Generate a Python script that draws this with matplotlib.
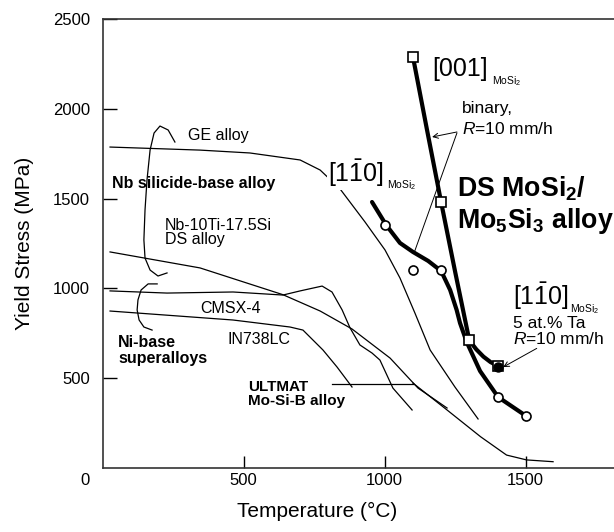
import matplotlib
matplotlib.use('Agg')
import matplotlib.pyplot as plt

# thin curves of the reference alloys (temperature in C, yield stress in MPa)
ge_temp = [26, 345, 522, 700, 771, 842, 930, 1001, 1054, 1107, 1161, 1249, 1331]
ge_stress = [1787, 1770, 1754, 1715, 1659, 1553, 1370, 1214, 1058, 863, 657, 451, 273]

nb_temp = [26, 345, 639, 771, 884, 1019, 1118, 1221]
nb_stress = [1203, 1114, 965, 874, 774, 612, 445, 334]

cmsx_temp = [26, 228, 462, 639, 700, 778, 813, 849, 877, 912, 955, 983, 1029, 1097]
cmsx_stress = [986, 974, 980, 963, 986, 1013, 980, 880, 780, 685, 640, 601, 445, 323]

in738_temp = [26, 462, 664, 710, 781, 831, 884]
in738_stress = [874, 824, 785, 768, 657, 562, 451]

ultmat_temp = [1100, 1221, 1340, 1432, 1503, 1597]
ultmat_stress = [473, 323, 174, 72, 45, 35]
ultmat_leader_temp = [813, 1100]
ultmat_leader_stress = [470, 470]

# DS MoSi2/Mo5Si3, [001] binary (squares)
sq_temp = [1100, 1200, 1300, 1400]
sq_stress = [2290, 1480, 710, 570]
line001_temp = [1100, 1150, 1200, 1250, 1300, 1325, 1350, 1375, 1400]
line001_stress = [2290, 1882, 1480, 1090, 710, 660, 620, 590, 570]

# DS MoSi2/Mo5Si3, [1-10] binary (open circles)
circ_temp = [1000, 1100, 1200, 1400, 1500]
circ_stress = [1355, 1100, 1100, 395, 290]
line110_temp = [955, 1005, 1054, 1100, 1154, 1200, 1232, 1255, 1267, 1291, 1338, 1402, 1501]
line110_stress = [1481, 1353, 1253, 1203, 1153, 1097, 991, 880, 807, 700, 540, 395, 290]

# [1-10] with 5 at.% Ta (filled circle)
ta_temp = [1400]
ta_stress = [560]

# curly brackets grouping the alloy families
nb_brace_temp = [256, 232, 203, 182, 168, 157, 150, 146, 150, 168, 196, 228]
nb_brace_stress = [1815, 1882, 1904, 1865, 1771, 1604, 1437, 1270, 1169, 1102, 1069, 1086]
ni_brace_temp = [193, 161, 136, 125, 122, 129, 146, 175]
ni_brace_stress = [1025, 1025, 991, 936, 880, 824, 785, 768]


def label_with_sub(ax, x, y, main, sx, sy):
    ax.text(x, y, main, fontsize=18, va='baseline', ha='left', zorder=6,
            bbox=dict(facecolor='white', edgecolor='none', pad=0.5))
    ax.text(sx, sy, r'MoSi$_2$', fontsize=7.5, va='baseline', ha='left', zorder=6)


def main():
    plt.rcParams['font.family'] = ['Liberation Sans', 'DejaVu Sans']
    plt.rcParams['mathtext.fontset'] = 'custom'
    plt.rcParams['mathtext.rm'] = 'Liberation Sans'
    plt.rcParams['mathtext.it'] = 'Liberation Sans:italic'
    plt.rcParams['mathtext.bf'] = 'Liberation Sans:bold'

    fig = plt.figure(figsize=(6.14, 5.32), dpi=100)
    ax = fig.add_axes([0.1673, 0.1203, 0.8327, 0.8440])

    thin = dict(color='black', lw=0.9, zorder=2)
    ax.plot(ge_temp, ge_stress, **thin)
    ax.plot(nb_temp, nb_stress, **thin)
    ax.plot(cmsx_temp, cmsx_stress, **thin)
    ax.plot(in738_temp, in738_stress, **thin)
    ax.plot(ultmat_temp, ultmat_stress, **thin)
    ax.plot(ultmat_leader_temp, ultmat_leader_stress, **thin)
    ax.plot(nb_brace_temp, nb_brace_stress, **thin)
    ax.plot(ni_brace_temp, ni_brace_stress, **thin)

    ax.plot(line001_temp, line001_stress, color='black', lw=3, zorder=3,
            solid_capstyle='butt')
    ax.plot(line110_temp, line110_stress, color='black', lw=3, zorder=3,
            solid_capstyle='round')
    ax.plot(sq_temp, sq_stress, 's', ms=7, mfc='white', mec='black', mew=1.2, zorder=4)
    ax.plot(circ_temp, circ_stress, 'o', ms=6.5, mfc='white', mec='black', mew=1.2, zorder=4)
    ax.plot(ta_temp, ta_stress, 'o', ms=6.5, mfc='black', mec='black', zorder=5)

    # leaders
    ax.annotate('', xy=(1168, 1843), xytext=(1256, 1871),
                arrowprops=dict(arrowstyle='->', lw=0.7, color='black',
                                shrinkA=0, shrinkB=0, mutation_scale=9))
    ax.plot([1256, 1104], [1865, 1197], color='black', lw=0.7, zorder=2)
    ax.annotate('', xy=(1420, 562), xytext=(1539, 666),
                arrowprops=dict(arrowstyle='->', lw=0.7, color='black',
                                shrinkA=0, shrinkB=0, mutation_scale=9))

    # texts
    fs = 11.5
    ax.text(303, 1826, 'GE alloy', fontsize=fs)
    ax.text(33, 1559, 'Nb silicide-base alloy', fontsize=fs, fontweight='bold')
    ax.text(221, 1325, 'Nb-10Ti-17.5Si', fontsize=fs)
    ax.text(221, 1245, 'DS alloy', fontsize=fs)
    ax.text(345, 863, 'CMSX-4', fontsize=fs)
    ax.text(441, 690, 'IN738LC', fontsize=fs)
    ax.text(55, 674, 'Ni-base', fontsize=fs, fontweight='bold')
    ax.text(55, 587, 'superalloys', fontsize=fs, fontweight='bold')
    ax.text(515, 428, 'ULTMAT', fontsize=11, fontweight='bold')
    ax.text(515, 351, 'Mo-Si-B alloy', fontsize=11, fontweight='bold')

    label_with_sub(ax, 1168, 2180, '[001]', 1381, 2138)
    label_with_sub(ax, 799, 1592, r'[1$\bar{1}$0]', 1008, 1556)
    label_with_sub(ax, 1455, 908, r'[1$\bar{1}$0]', 1658, 866)

    ax.text(1274, 1977, 'binary,', fontsize=12.5)
    ax.text(1274, 1860, r'$R$=10 mm/h', fontsize=12.5)
    ax.text(1455, 781, '5 at.% Ta', fontsize=12.5)
    ax.text(1455, 690, r'$R$=10 mm/h', fontsize=12.5)

    ax.text(1257, 1509, r'DS MoSi$_\mathbf{2}$/', fontsize=19.3, fontweight='bold')
    ax.text(1257, 1336, r'Mo$_\mathbf{5}$Si$_\mathbf{3}$ alloy', fontsize=19.3,
            fontweight='bold')

    # axes
    ax.set_xlim(0, 1813)
    ax.set_ylim(0, 2500)
    ax.set_xticks([500, 1000, 1500])
    ax.set_yticks([500, 1000, 1500, 2000, 2500])
    ax.tick_params(axis='both', direction='in', width=1, labelsize=12)
    ax.tick_params(axis='y', length=10, pad=9)
    ax.tick_params(axis='x', length=8.5, pad=3.6)
    ax.annotate('0', xy=(0, 0), xycoords='data', xytext=(-9.1, -3.6),
                textcoords='offset points', ha='right', va='top', fontsize=12)
    for side in ['left', 'top', 'bottom']:
        ax.spines[side].set_linewidth(1.2)
        ax.spines[side].set_color('#333333')
    ax.spines['right'].set_visible(False)

    ax.set_xlabel('Temperature (°C)', fontsize=15)
    ax.set_ylabel('Yield Stress (MPa)', fontsize=15)
    ax.xaxis.set_label_coords(0.419, -0.076)
    ax.yaxis.set_label_coords(-0.135, 0.5)

    fig.savefig('out.png', dpi=100)


if __name__ == '__main__':
    main()
